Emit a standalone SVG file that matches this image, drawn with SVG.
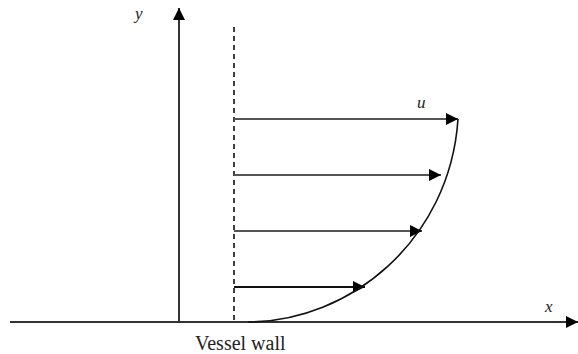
<svg xmlns="http://www.w3.org/2000/svg" width="578" height="354" viewBox="0 0 578 354">
<defs>
<style>
.lbl{font-family:"Liberation Serif",serif;font-style:italic;font-size:17px;fill:#222}
.ax{stroke:#333;stroke-width:2;fill:none}
.vel{stroke:#555;stroke-width:2;fill:none}
</style>
<marker id="ah" viewBox="0 0 10 10" refX="10" refY="5" markerWidth="14" markerHeight="12" markerUnits="userSpaceOnUse" orient="auto">
<path d="M0,0 L10,5 L0,10 z" fill="#000"/>
</marker>
</defs>
<rect width="578" height="354" fill="#fff"/>
<g id="connectors">
<line class="ax" x1="179" y1="322" x2="179" y2="8" marker-end="url(#ah)"/>
<line class="ax" x1="10" y1="322" x2="578" y2="322" marker-end="url(#ah)"/>
<line x1="234" y1="27" x2="234" y2="322" stroke="#000" stroke-width="1.5" stroke-dasharray="5,4"/>
<line class="vel" x1="234" y1="119" x2="458" y2="119" marker-end="url(#ah)"/>
<line class="vel" x1="234" y1="175" x2="441" y2="175" marker-end="url(#ah)"/>
<line class="vel" x1="234" y1="231" x2="422" y2="231" marker-end="url(#ah)"/>
<line x1="234" y1="287" x2="365" y2="287" stroke="#111" stroke-width="2" marker-end="url(#ah)"/>
<path d="M248,322 C350,322 450,240 458,119" stroke="#111" stroke-width="1.6" fill="none"/>
</g>
<g id="labels">
<text class="lbl" x="135" y="19">y</text>
<text class="lbl" x="417" y="108">u</text>
<text class="lbl" x="545" y="312">x</text>
<text x="195" y="350" font-family="Liberation Serif,serif" font-size="20" fill="#222">Vessel wall</text>
</g>
</svg>
